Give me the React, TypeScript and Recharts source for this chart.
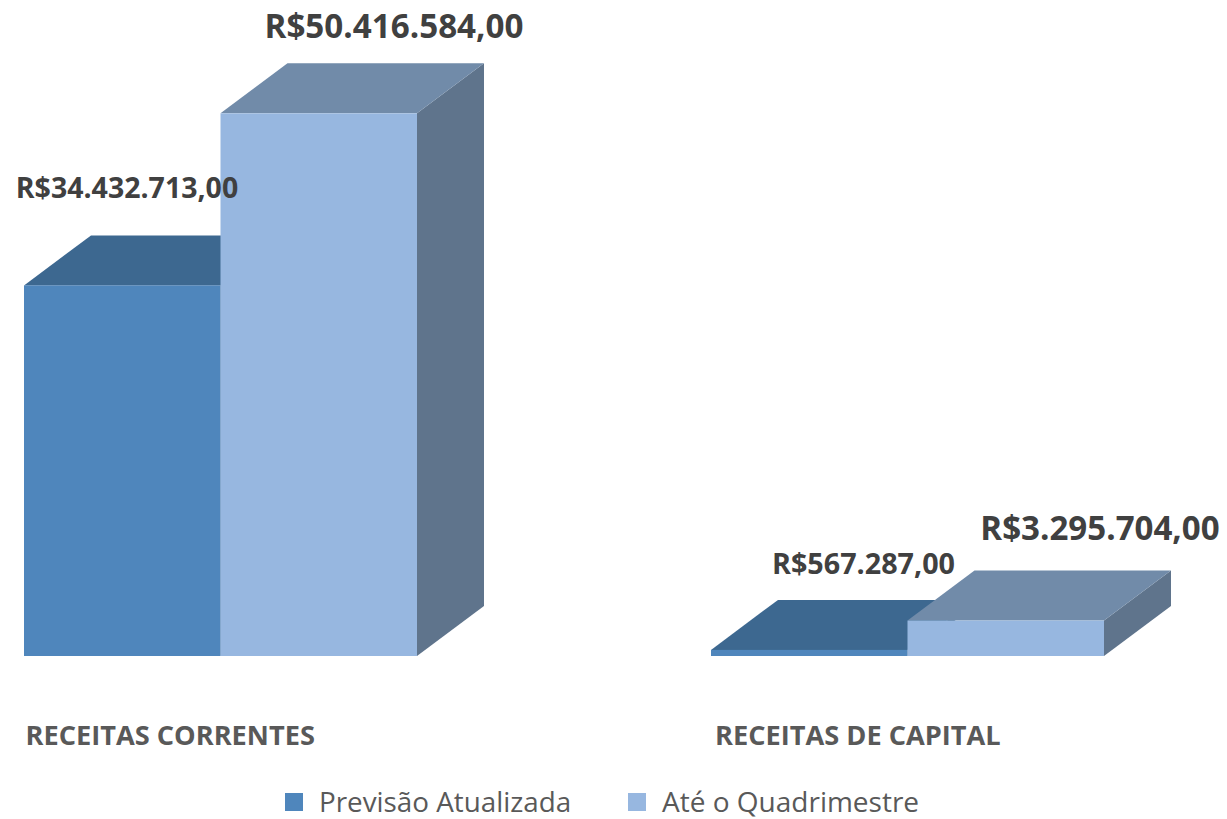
import React from 'react';
import { Bar, ComposedChart, LabelList, Legend, Line, XAxis, YAxis } from 'recharts';

const categories = ['RECEITAS CORRENTES', 'RECEITAS DE CAPITAL'];
const previsaoAtualizada = [34432713, 567287];
const ateQuadrimestre = [50416584, 3295704];

const chartData = categories.map((categoria, i) => ({
  categoria,
  previsao: previsaoAtualizada[i],
  ate: ateQuadrimestre[i],
}));

const FONT = '"Open Sans", sans-serif';
const DEPTH_X = 67;
const DEPTH_Y = 50;
const LABEL_COLOR = '#404040';
const AXIS_COLOR = '#595959';

const COLORS = {
  previsao: { front: '#4f86bc', top: '#3d6890', side: '#34587a' },
  ate: { front: '#97b7e0', top: '#718ba9', side: '#5f748c' },
};

// label placement relative to the top of the bar, per category
const previsaoLabels = [
  { dx: -93.5, dy: -87, size: 28.5 },
  { dx: -44, dy: -76, size: 28.7 },
];
const ateLabels = [
  { dx: 173.5, dy: -75.5, size: 33.2 },
  { dx: 192.5, dy: -81, size: 33.1 },
];
const tickOffsets = [-195, -192.5];

const formatBRL = (v: number) =>
  'R$' + v.toLocaleString('pt-BR', { minimumFractionDigits: 2, maximumFractionDigits: 2 });

const box3d = (c: { front: string; top: string; side: string }) => (props: any) => {
  const { x, y, width, height } = props;
  const r = x + width;
  const b = y + height;
  return (
    <g>
      <polygon
        points={`${r},${y} ${r + DEPTH_X},${y - DEPTH_Y} ${r + DEPTH_X},${b - DEPTH_Y} ${r},${b}`}
        fill={c.side}
      />
      <polygon
        points={`${x},${y} ${x + DEPTH_X},${y - DEPTH_Y} ${r + DEPTH_X},${y - DEPTH_Y} ${r},${y}`}
        fill={c.top}
      />
      <rect x={x} y={y} width={width} height={height} fill={c.front} />
    </g>
  );
};

const valueLabel = (placement: { dx: number; dy: number; size: number }[]) => (props: any) => {
  const { x, y, value, index } = props;
  const p = placement[index];
  return (
    <text
      x={x + p.dx}
      y={y + p.dy}
      textAnchor="middle"
      fontFamily={FONT}
      fontWeight={700}
      fontSize={p.size}
      fill={LABEL_COLOR}
    >
      {formatBRL(value)}
    </text>
  );
};

const CategoryTick = (props: any) => {
  const { x, payload, index } = props;
  return (
    <text x={x + tickOffsets[index]} y={745} fontFamily={FONT} fontWeight={700} fontSize={27.2} fill={AXIS_COLOR}>
      {payload.value}
    </text>
  );
};

const legendItems = [
  { name: 'Previsão Atualizada', color: COLORS.previsao.front, left: 285, size: 27.8 },
  { name: 'Até o Quadrimestre', color: COLORS.ate.front, left: 628, size: 28 },
];

const LegendContent = () => (
  <div style={{ position: 'relative', width: 0, height: 0 }}>
    {legendItems.map((item) => (
      <div key={item.name} style={{ position: 'absolute', left: item.left, top: 0 }}>
        <div
          style={{ position: 'absolute', left: 0, top: 793, width: 18, height: 18, background: item.color }}
        />
        <div
          style={{
            position: 'absolute',
            left: 34,
            top: 781,
            whiteSpace: 'nowrap',
            fontFamily: FONT,
            fontSize: item.size,
            lineHeight: '40px',
            color: AXIS_COLOR,
          }}
        >
          {item.name}
        </div>
      </div>
    ))}
  </div>
);

export default function App() {
  return (
    <div style={{ position: 'absolute', left: 0, top: 0, width: 1227, height: 819, background: '#fff' }}>
      <ComposedChart
        width={1227}
        height={819}
        data={chartData}
        barGap={0}
        margin={{ top: 64, right: -24, bottom: 103, left: -123 }}
      >
        <XAxis
          dataKey="categoria"
          height={60}
          axisLine={false}
          tickLine={false}
          interval={0}
          tick={CategoryTick}
        />
        <YAxis hide domain={[0, 55000000]} />
        <Legend
          content={LegendContent}
          wrapperStyle={{ position: 'absolute', left: 0, top: 0, width: 0, height: 0 }}
        />
        <Bar
          dataKey="previsao"
          barSize={196.5}
          shape={box3d(COLORS.previsao)}
          isAnimationActive={false}
        />
        <Bar dataKey="ate" barSize={196.5} shape={box3d(COLORS.ate)} isAnimationActive={false} />
        {/* invisible lines carry the value labels so they sit above every bar */}
        <Line dataKey="previsao" stroke="none" dot={false} legendType="none" isAnimationActive={false}>
          <LabelList dataKey="previsao" content={valueLabel(previsaoLabels)} />
        </Line>
        <Line dataKey="ate" stroke="none" dot={false} legendType="none" isAnimationActive={false}>
          <LabelList dataKey="ate" content={valueLabel(ateLabels)} />
        </Line>
      </ComposedChart>
    </div>
  );
}
